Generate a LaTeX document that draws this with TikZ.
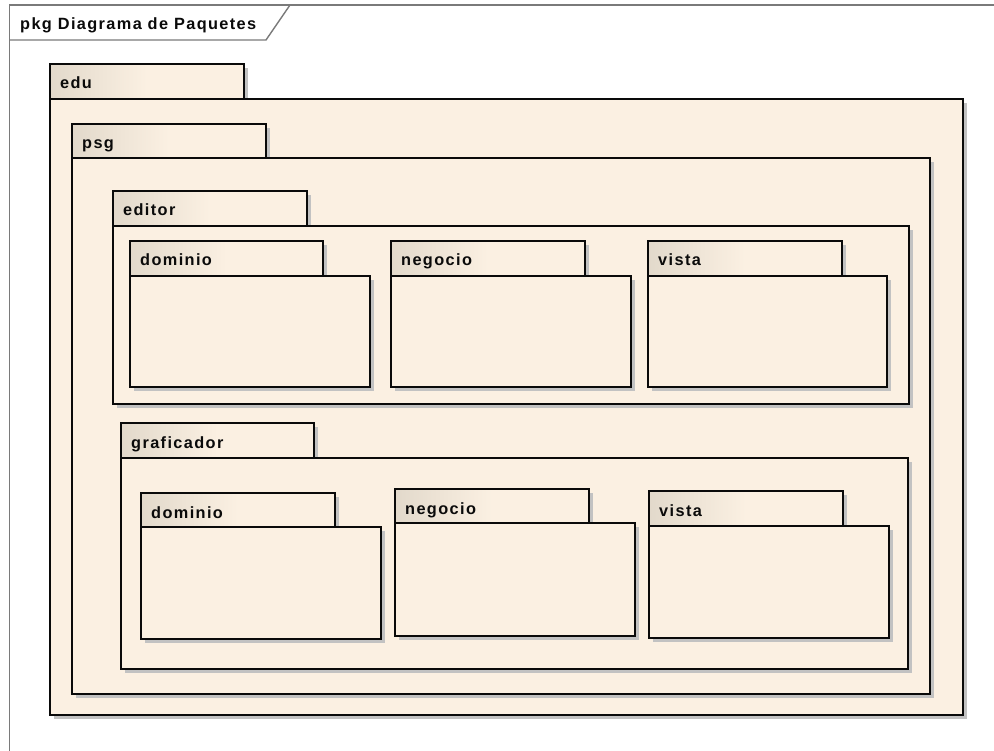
\documentclass[tikz,border=0pt]{standalone}
\usepackage{fontspec}
\setmainfont{Liberation Sans}
\newfontfamily\lblfont[LetterSpace=8.5]{Liberation Sans Bold}
\definecolor{pkgfill}{HTML}{FBF0E2}
\definecolor{tabdark}{HTML}{E2D9CB}
\definecolor{shadowgray}{HTML}{C2C2C2}
\definecolor{framegray}{HTML}{7A7A7A}
\definecolor{inkblack}{HTML}{0A0A0A}
\tikzset{
  pkgline/.style={draw=inkblack, line width=1.8pt},
  pkgshadow/.style={fill=shadowgray, draw=none},
  pkglabel/.style={anchor=base west, inner sep=0pt, text=inkblack,
    font=\lblfont\fontsize{16.3}{19}\selectfont},
  frameline/.style={draw=framegray, line width=1.4pt}
}
% \umlpkg{name}{label}{left}{tab top}{tab right}{body top}{body right}{body bottom}
\newcommand\umlpkg[8]{%
  \fill[pkgshadow] ({#3+4},{#4+4}) rectangle ({#5+4},{#6+4});
  \fill[pkgshadow] ({#3+4},{#6+4}) rectangle ({#7+4},{#8+4});
  \fill[pkgfill] (#3,#4) rectangle (#5,#6);
  \shade[left color=tabdark, right color=pkgfill] (#3,#4) rectangle ({(#3+#5)/2},#6);
  \fill[pkgfill] (#3,#6) rectangle (#7,#8);
  \draw[pkgline] (#3,#4) rectangle (#5,#6);
  \draw[pkgline] (#3,#6) rectangle (#7,#8);
  \node[pkglabel] (#1) at ({#3+10},{#4+25}) {#2};
}
\begin{document}
\begin{tikzpicture}[x=1pt, y=-1pt]
\useasboundingbox (0,0) rectangle (994,751);
\fill[white] (0,0) rectangle (994,751);

% diagram frame with its name tab
\draw[frameline] (9.5,760) -- (9.5,5) -- (1000,5);
\draw[frameline] (9.5,40) -- (266,40) -- (290,5);
\node[pkglabel] (frame) at (20,30) {pkg Diagrama de Paquetes};

% nested packages
\umlpkg{edu}{edu}{50}{64}{244}{99}{963}{715}
\umlpkg{psg}{psg}{72}{124}{266}{158}{930}{694}
\umlpkg{editor}{editor}{113}{191}{307}{226}{909}{404}
\umlpkg{edDominio}{dominio}{130}{241}{323}{276}{370}{387}
\umlpkg{edNegocio}{negocio}{391}{241}{585}{276}{631}{387}
\umlpkg{edVista}{vista}{648}{241}{842}{276}{887}{387}
\umlpkg{graficador}{graficador}{121}{423}{314}{458}{908}{669}
\umlpkg{grDominio}{dominio}{141}{493}{335}{527}{381}{639}
\umlpkg{grNegocio}{negocio}{395}{489}{589}{523}{635}{636}
\umlpkg{grVista}{vista}{649}{491}{843}{526}{889}{638}
\end{tikzpicture}
\end{document}
